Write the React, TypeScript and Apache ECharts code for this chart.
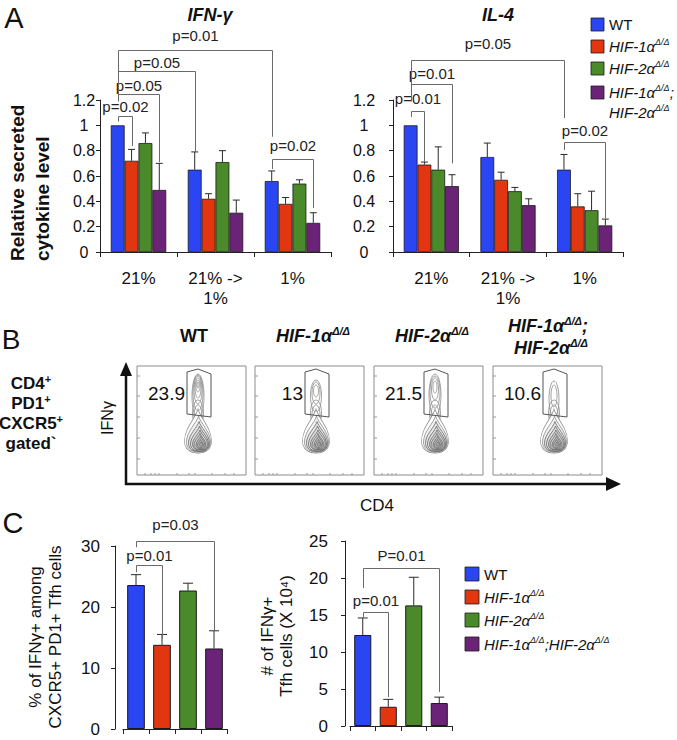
import React, { useEffect, useRef } from "react";
import * as echarts from "echarts";

const FONT = '"Liberation Sans", Arial, Helvetica, sans-serif';

// ---------- Panel A data ----------
const oxygenConditions = ["21%", "21% ->\n1%", "1%"];
const genotypes = ["WT", "HIF-1α Δ/Δ", "HIF-2α Δ/Δ", "HIF-1α Δ/Δ;HIF-2α Δ/Δ"];
const genotypeColors = ["#2a46f2", "#e1360f", "#4a8a2b", "#6b2378"];

const ifnWT = [1.0, 0.65, 0.56];
const ifnHif1 = [0.72, 0.42, 0.38];
const ifnHif2 = [0.86, 0.71, 0.54];
const ifnDouble = [0.49, 0.31, 0.23];
const ifnWTErrTop = [null, 0.79, 0.64];
const ifnHif1ErrTop = [0.81, 0.46, 0.43];
const ifnHif2ErrTop = [0.94, 0.8, 0.57];
const ifnDoubleErrTop = [0.7, 0.41, 0.31];

const il4WT = [1.0, 0.75, 0.65];
const il4Hif1 = [0.69, 0.57, 0.36];
const il4Hif2 = [0.65, 0.48, 0.33];
const il4Double = [0.52, 0.37, 0.21];
const il4WTErrTop = [null, 0.86, 0.77];
const il4Hif1ErrTop = [0.71, 0.63, 0.46];
const il4Hif2ErrTop = [0.83, 0.51, 0.48];
const il4DoubleErrTop = [0.61, 0.42, 0.26];

// brackets: [fromCategory, fromBar, toCategory, toBar]; levels: [top, leftEnd, rightEnd, labelCenter]
const ifnBracketLabels = ["p=0.02", "p=0.05", "p=0.05", "p=0.01", "p=0.02"];
const ifnBracketSpans = [[0, 0, 0, 1], [0, 0, 0, 3], [0, 0, 1, 0], [0, 0, 2, 0], [2, 0, 2, 3]];
const ifnBracketLevels = [
  [1.074, 1.03, 0.837, 1.145],
  [1.247, 1.19, 0.71, 1.318],
  [1.429, 1.19, 0.79, 1.5],
  [1.595, 1.19, 0.91, 1.713],
  [0.734, 0.655, 0.347, 0.837],
];
const il4BracketLabels = ["p=0.01", "p=0.01", "p=0.05", "p=0.02"];
const il4BracketSpans = [[0, 0, 0, 1], [0, 0, 0, 3], [0, 0, 2, 0], [2, 0, 2, 3]];
const il4BracketLevels = [
  [1.113, 1.066, 0.71, 1.208],
  [1.326, 1.19, 0.7, 1.413],
  [1.516, 1.19, 1.058, 1.65],
  [0.868, 0.805, 0.268, 0.963],
];

// ---------- Panel B data ----------
const flowPercents = ["23.9", "13", "21.5", "10.6"];

// ---------- Panel C data ----------
const pctIfng = [23.6, 13.8, 22.7, 13.2];
const pctIfngErrTop = [25.3, 15.5, 23.9, 16.1];
const countIfng = [12.3, 2.6, 16.3, 3.1];
const countIfngErrTop = [14.6, 3.6, 20.1, 3.9];

const pctBracketLabels = ["p=0.03", "p=0.01"];
const pctBracketSpans = [[0, 0, 3, 0], [0, 0, 1, 0]];
const pctBracketLevels = [[30.8, 29.8, 16.2, 33.6], [26.9, 25.7, 14.9, 28.4]];
const countBracketLabels = ["P=0.01", "p=0.01"];
const countBracketSpans = [[0, 0, 3, 0], [0, 0, 1, 0]];
const countBracketLevels = [[21.35, 18.65, 4.6, 23.0], [15.4, 14.7, 3.9, 16.9]];

// ---------- shapes for the flow contour sketches ----------
const TEARDROP_D =
  "M0,-1 C0.15,-0.6 1,-0.15 1,0.45 C1,0.8 0.6,1 0,1 C-0.6,1 -1,0.8 -1,0.45 C-1,-0.15 -0.15,-0.6 0,-1 Z";
echarts.graphic.registerShape("teardrop", echarts.graphic.extendPath(TEARDROP_D, {}));

const BLOB = [
  [13.5, 22, 61, 65],
  [12, 18, 61.5, 68],
  [10.5, 15, 62, 70.5],
  [9, 12.5, 62.5, 72.5],
  [7.5, 10, 63, 74],
  [6, 8, 63, 75.5],
  [4.5, 6, 63.5, 76.5],
  [3, 4, 63.5, 77.5],
  [1.5, 2, 64, 78],
];
const NECK = [[5.5, 13, 61, 47], [4, 10, 61, 49]];
const UPPER = [
  [[6, 22, 61, 30], [5, 18, 61, 27], [4, 14, 61, 24], [3, 10, 61, 22], [2, 6, 61, 20], [1, 3, 61, 19]],
  [[5.5, 16, 61, 30], [4, 11, 61, 27], [2.5, 6, 61, 25]],
  [[6, 21, 61, 29], [5, 16, 61, 26], [3.5, 11, 61, 23], [2, 6, 61, 21]],
  [[5, 18, 61, 33], [3, 11, 61, 30]],
];

function sup(size: number, bold: boolean, italic: boolean) {
  const s = Math.round(size * 0.62);
  return {
    m: { fontFamily: FONT, fontSize: size, fontWeight: bold ? "bold" : "normal", fontStyle: italic ? "italic" : "normal", lineHeight: size + 3, fill: "#111" },
    n: { fontFamily: FONT, fontSize: size, fontWeight: bold ? "bold" : "normal", fontStyle: "normal", lineHeight: size + 3, fill: "#111" },
    s: { fontFamily: FONT, fontSize: s, fontWeight: bold ? "bold" : "normal", fontStyle: italic ? "italic" : "normal", lineHeight: s, verticalAlign: "top", fill: "#111" },
  };
}

function errRows(means: number[][], tops: (number | null)[][]) {
  const rows: number[][] = [];
  means.forEach((m, b) => m.forEach((v, c) => {
    const t = tops[b][c];
    if (t != null) rows.push([c, b, v, t]);
  }));
  return rows;
}

function errorSeries(idx: number, rows: number[][], nBars: number, frac: number, cap: number) {
  return {
    type: "custom", xAxisIndex: idx, yAxisIndex: idx, clip: false, z: 5, silent: true,
    data: rows,
    renderItem: (params: any, api: any) => {
      const cat = api.value(0), b = api.value(1), v = api.value(2), e = api.value(3);
      const band = api.size([1, 0])[0];
      const p0 = api.coord([cat, v]);
      const p1 = api.coord([cat, e]);
      const x = p0[0] + (b - (nBars - 1) / 2) * frac * band;
      const st = { stroke: "#2a2a2a", lineWidth: 1 };
      return {
        type: "group",
        children: [
          { type: "line", shape: { x1: x, y1: p0[1], x2: x, y2: p1[1] }, style: st },
          { type: "line", shape: { x1: x - cap, y1: p1[1], x2: x + cap, y2: p1[1] }, style: st },
        ],
      };
    },
  };
}

function bracketSeries(idx: number, spans: number[][], levels: number[][], labels: string[], nBars: number, frac: number, fs: number) {
  return {
    type: "custom", xAxisIndex: idx, yAxisIndex: idx, clip: false, z: 6, silent: true,
    data: spans.map((s, i) => [s[0], s[1], s[2], s[3], levels[i][0], levels[i][1], levels[i][2], levels[i][3]]),
    renderItem: (params: any, api: any) => {
      const band = api.size([1, 0])[0];
      const xOf = (c: number, b: number) => api.coord([c, 0])[0] + (b - (nBars - 1) / 2) * frac * band;
      const xl = Math.round(xOf(api.value(0), api.value(1))) + 0.5;
      const xr = Math.round(xOf(api.value(2), api.value(3))) + 0.5;
      const yT = Math.round(api.coord([0, api.value(4)])[1]) + 0.5;
      const yL = api.coord([0, api.value(5)])[1];
      const yR = api.coord([0, api.value(6)])[1];
      const yLab = api.coord([0, api.value(7)])[1];
      return {
        type: "group",
        children: [
          { type: "polyline", shape: { points: [[xl, yL], [xl, yT], [xr, yT], [xr, yR]] }, style: { stroke: "#6a6a6a", lineWidth: 1, fill: "none" } },
          { type: "text", x: (xl + xr) / 2, y: yLab, style: { text: labels[params.dataIndex], fontFamily: FONT, fontSize: fs, fill: "#222", align: "center", verticalAlign: "middle" } },
        ],
      };
    },
  };
}

function catAxis(idx: number, data: string[], showLabels: boolean) {
  return {
    gridIndex: idx, type: "category", data,
    axisLine: { show: true, lineStyle: { color: "#222", width: 1 } },
    axisTick: { show: true, length: 5, alignWithLabel: false, lineStyle: { color: "#222" } },
    axisLabel: { show: showLabels, interval: 0, fontSize: 17, lineHeight: 20, margin: 16, color: "#111", fontFamily: FONT },
    splitLine: { show: false },
  };
}

function valAxis(idx: number, max: number, interval: number, offset: number, margin: number, align: string, fs: number) {
  return {
    gridIndex: idx, type: "value", min: 0, max, interval, offset,
    axisLine: { show: true, lineStyle: { color: "#222", width: 1 } },
    axisTick: { show: true, length: 4, lineStyle: { color: "#222" } },
    axisLabel: { fontSize: fs, margin, align, color: "#111", fontFamily: FONT },
    splitLine: { show: false },
  };
}

function flowBox(left: number, i: number) {
  const top = 366, w = 109, h = 109;
  const children: any[] = [];
  children.push({ type: "rect", shape: { x: 0, y: 0, width: w, height: h }, style: { fill: "#fff", stroke: "#8c8c8c", lineWidth: 1 } });
  [10, 30, 51, 72, 93].forEach((ty) => children.push({ type: "line", shape: { x1: 0, y1: ty, x2: 3, y2: ty }, style: { stroke: "#999", lineWidth: 1 } }));
  [8, 14, 18, 22, 40, 52, 58, 75, 88, 97].forEach((tx) => children.push({ type: "line", shape: { x1: tx, y1: h, x2: tx, y2: h - 2 }, style: { stroke: "#999", lineWidth: 1 } }));
  NECK.forEach(([rx, ry, cx, cy]) => children.push({
    type: "ellipse", shape: { cx, cy, rx, ry }, style: { fill: "none", stroke: "#8a8a8a", lineWidth: 0.8 },
  }));
  UPPER[i].forEach(([rx, ry, cx, cy]) => children.push({
    type: "ellipse", shape: { cx, cy, rx, ry }, style: { fill: "none", stroke: "#8a8a8a", lineWidth: 0.8 },
  }));
  BLOB.forEach(([rx, ry, cx, cy], k) => children.push({
    type: "teardrop", x: cx, y: cy, scaleX: rx, scaleY: ry,
    style: { fill: k === 0 ? "#fff" : "rgba(90,90,90,0.07)", stroke: k < 2 ? "#8a8a8a" : "#666", lineWidth: 0.8, strokeNoScale: true },
  }));
  children.push({ type: "polygon", shape: { points: [[50, 6], [61, 3], [74, 8], [74, 51], [50, 48]] }, style: { fill: "none", stroke: "#555", lineWidth: 1 } });
  children.push({ type: "text", x: 48, y: 27, style: { text: flowPercents[i], fontFamily: FONT, fontSize: 19, fill: "#111", align: "right", verticalAlign: "middle" } });
  return { type: "group", x: left, y: top, children };
}

function buildOption() {
  const ifnMeans = [ifnWT, ifnHif1, ifnHif2, ifnDouble];
  const ifnTops = [ifnWTErrTop, ifnHif1ErrTop, ifnHif2ErrTop, ifnDoubleErrTop];
  const il4Means = [il4WT, il4Hif1, il4Hif2, il4Double];
  const il4Tops = [il4WTErrTop, il4Hif1ErrTop, il4Hif2ErrTop, il4DoubleErrTop];
  const BF = 0.18;

  const groupBars = (idx: number, means: number[][]) => means.map((d, i) => ({
    type: "bar", name: genotypes[i], xAxisIndex: idx, yAxisIndex: idx, data: d,
    barWidth: "18%", barGap: "0%",
    itemStyle: { color: genotypeColors[i], borderColor: "#1a1a1a", borderWidth: 0.8 },
  }));
  const singleBars = (idx: number, vals: number[], width: string) => ({
    type: "bar", xAxisIndex: idx, yAxisIndex: idx, barWidth: width,
    data: vals.map((v, i) => ({ value: v, itemStyle: { color: genotypeColors[i] } })),
    itemStyle: { borderColor: "#1a1a1a", borderWidth: 1 },
  });

  const legendLabels = [
    "{n|WT}",
    "{m|HIF-1α}{s|Δ/Δ}",
    "{m|HIF-2α}{s|Δ/Δ}",
    "{m|HIF-1α}{s|Δ/Δ}{m|;}",
  ];
  const legendCLabels = [
    "{n|WT}",
    "{m|HIF-1α}{s|Δ/Δ}",
    "{m|HIF-2α}{s|Δ/Δ}",
    "{m|HIF-1α}{s|Δ/Δ}{m|;HIF-2α}{s|Δ/Δ}",
  ];

  const g: any[] = [];
  const T = (x: number, y: number, text: string, o: any = {}) => ({
    type: "text", x, y, rotation: o.rotation || 0,
    style: {
      text, fontFamily: FONT, fontSize: o.fs || 16, fontWeight: o.fw || "normal", fontStyle: o.fi || "normal",
      fill: "#111", align: o.align || "center", verticalAlign: o.va || "middle", lineHeight: o.lh, rich: o.rich,
    },
  });

  // panel letters
  g.push(T(14, 18, "A", { fs: 29 }));
  g.push(T(11, 339, "B", { fs: 28 }));
  g.push(T(13, 523, "C", { fs: 29 }));

  // Panel A titles & axis name
  g.push(T(210, 15, "IFN-γ", { fs: 18, fw: "bold", fi: "italic" }));
  g.push(T(498, 15, "IL-4", { fs: 18, fw: "bold", fi: "italic" }));
  g.push(T(29.5, 261, "Relative secreted\ncytokine level", { fs: 19, fw: "bold", rotation: Math.PI / 2, align: "left", lh: 25 }));

  // Panel A legend
  const legTops = [18, 40, 62, 86];
  legTops.forEach((ty, i) => {
    g.push({ type: "rect", shape: { x: 591, y: ty, width: 13, height: 13 }, style: { fill: genotypeColors[i], stroke: "#1a1a1a", lineWidth: 0.8 } });
    g.push(T(609, ty + 6.5, legendLabels[i], { align: "left", rich: sup(15, false, true) }));
  });
  g.push(T(609, 112, "{m|HIF-2α}{s|Δ/Δ}", { align: "left", rich: sup(15, false, true) }));

  // Panel B
  const boxLefts = [137, 255, 374, 493];
  boxLefts.forEach((l, i) => g.push(flowBox(l, i)));
  g.push(T(194, 336, "WT", { fs: 18, fw: "bold" }));
  g.push(T(313, 336, "{m|HIF-1α}{s|Δ/Δ}", { rich: sup(18, true, true) }));
  g.push(T(432, 336, "{m|HIF-2α}{s|Δ/Δ}", { rich: sup(18, true, true) }));
  g.push(T(548, 326, "{m|HIF-1α}{s|Δ/Δ}{m|;}", { rich: sup(18, true, true) }));
  g.push(T(551, 348, "{m|HIF-2α}{s|Δ/Δ}", { rich: sup(18, true, true) }));
  g.push(T(31, 413, "{m|CD4}{s|+}\n{m|PD1}{s|+}\n{m|CXCR5}{s|+}\n{m|gated`}", { rich: sup(17, true, false) }));
  g.push(T(107, 418, "IFNγ", { fs: 16, rotation: Math.PI / 2 }));
  g.push(T(377, 505, "CD4", { fs: 17 }));
  // axes arrows
  g.push({ type: "line", shape: { x1: 126, y1: 485, x2: 126, y2: 374 }, style: { stroke: "#111", lineWidth: 2.5 } });
  g.push({ type: "polygon", shape: { points: [[126, 362], [120, 376], [132, 376]] }, style: { fill: "#111" } });
  g.push({ type: "line", shape: { x1: 125, y1: 484, x2: 608, y2: 484 }, style: { stroke: "#111", lineWidth: 2.5 } });
  g.push({ type: "polygon", shape: { points: [[621, 484], [606, 477], [606, 491]] }, style: { fill: "#111" } });

  // Panel C axis names
  g.push(T(45, 637, "% of IFNγ+ among\nCXCR5+ PD1+ Tfh cells", { fs: 17, rotation: Math.PI / 2, lh: 20 }));
  g.push(T(277, 636, "# of IFNγ+\nTfh cells (X 10⁴)", { fs: 17, rotation: Math.PI / 2, lh: 19 }));

  // Panel C legend
  const legCTops = [567, 590, 613, 637];
  legCTops.forEach((ty, i) => {
    g.push({ type: "rect", shape: { x: 465, y: ty, width: 14, height: 14 }, style: { fill: genotypeColors[i], stroke: "#1a1a1a", lineWidth: 0.8 } });
    g.push(T(484, ty + 7, legendCLabels[i], { align: "left", rich: sup(15, false, true) }));
  });

  return {
    animation: false,
    textStyle: { fontFamily: FONT },
    grid: [
      { left: 100, top: 100, width: 231, height: 152, outerBoundsMode: "none" },
      { left: 393, top: 100, width: 230, height: 152, outerBoundsMode: "none" },
      { left: 123, top: 546, width: 104, height: 183, outerBoundsMode: "none" },
      { left: 350, top: 541, width: 102, height: 185, outerBoundsMode: "none" },
    ],
    xAxis: [
      catAxis(0, oxygenConditions, true),
      catAxis(1, oxygenConditions, true),
      catAxis(2, genotypes, false),
      catAxis(3, genotypes, false),
    ],
    yAxis: [
      valAxis(0, 1.2, 0.2, 0, 16, "center", 16),
      valAxis(1, 1.2, 0.2, 0, 29, "center", 16),
      valAxis(2, 30, 10, 8, 15, "right", 17),
      valAxis(3, 25, 5, 5, 17, "right", 17),
    ],
    series: [
      ...groupBars(0, ifnMeans),
      ...groupBars(1, il4Means),
      errorSeries(0, errRows(ifnMeans, ifnTops), 4, BF, 3.5),
      errorSeries(1, errRows(il4Means, il4Tops), 4, BF, 3.5),
      bracketSeries(0, ifnBracketSpans, ifnBracketLevels, ifnBracketLabels, 4, BF, 15),
      bracketSeries(1, il4BracketSpans, il4BracketLevels, il4BracketLabels, 4, BF, 15),
      singleBars(2, pctIfng, "68%"),
      singleBars(3, countIfng, "67%"),
      errorSeries(2, errRows([pctIfng], [pctIfngErrTop]), 1, 0, 5),
      errorSeries(3, errRows([countIfng], [countIfngErrTop]), 1, 0, 5),
      bracketSeries(2, pctBracketSpans, pctBracketLevels, pctBracketLabels, 1, 0, 15),
      bracketSeries(3, countBracketSpans, countBracketLevels, countBracketLabels, 1, 0, 15),
    ],
    graphic: { elements: g },
  };
}

export default function App() {
  const ref = useRef<HTMLDivElement>(null);
  useEffect(() => {
    document.body.style.margin = "0";
    const chart = echarts.init(ref.current as HTMLDivElement, null, { renderer: "svg", width: 677, height: 740 });
    chart.setOption(buildOption() as any);
    return () => chart.dispose();
  }, []);
  return <div ref={ref} style={{ width: 677, height: 740, background: "#fff" }} />;
}
